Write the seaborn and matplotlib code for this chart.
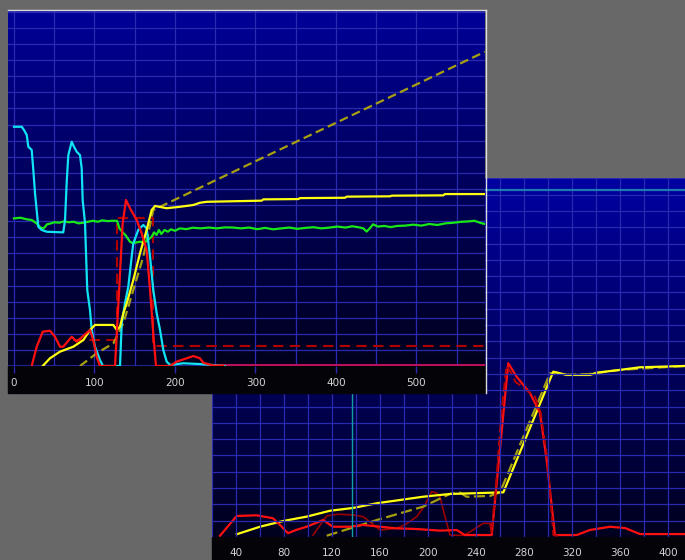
import numpy as np
import matplotlib
matplotlib.use("Agg")
import matplotlib.pyplot as plt
from matplotlib.colors import LinearSegmentedColormap
from matplotlib.patches import Rectangle
from matplotlib.lines import Line2D
import seaborn as sns

# ---------------- front scope window: traces ----------------
front_ticks = [0, 100, 200, 300, 400, 500]
front_tick_labels = ["0", "100", "200", "300", "400", "500"]

cyan_x = [0, 9.6, 12.4, 15.8, 17.8, 22, 24, 26.1, 30.2, 34.4, 40.6, 61.2, 63.4, 65.5,
          67.5, 71.7, 74.5, 77.9, 82, 84.1, 85.3, 88.2, 91, 94.4, 96.5, 100.6, 106.8,
          110.6, 131.7, 133.8, 137.9, 142, 146.2, 148.2, 154.4, 160.6, 164.8, 169, 173,
          177.3, 181.4, 185.5, 189.7, 193.8, 210.3, 231, 250, 262]
cyan_y = [14.86, 14.86, 14.66, 14.35, 13.62, 13.42, 12.17, 10.73, 8.65, 8.45, 8.34, 8.3,
          9.07, 11.45, 13.1, 13.93, 13.62, 13.31, 13.1, 12.28, 10.31, 8.88, 4.72, 3.48,
          2.24, 1.2, 0.37, 0.0, 0.0, 2.65, 3.91, 4.93, 6.79, 7.62, 8.45, 8.76, 8.55, 6.79,
          4.72, 3.27, 2.24, 0.99, 0.27, 0.06, 0.17, 0.12, 0.05, 0.0]

green_x = [0, 8, 16, 22, 28, 33, 37, 41, 46, 50, 56, 62, 68, 74, 80, 86, 92, 98, 104, 110,
           116, 122, 128, 131, 135, 139, 144, 148, 152, 157, 161, 165, 168, 171, 174, 177,
           180, 183, 187, 191, 195, 200, 206, 214, 222, 232, 242, 252, 262, 272, 282, 292,
           302, 312, 322, 332, 342, 352, 362, 372, 382, 392, 402, 412, 420, 428, 434, 438,
           442, 446, 452, 460, 468, 476, 486, 496, 506, 516, 526, 536, 546, 556, 564, 572,
           580, 585]
green_y = [9.17, 9.21, 9.11, 9.07, 8.86, 8.6, 8.55, 8.8, 8.86, 8.93, 8.9, 8.98, 8.93, 8.96,
           8.86, 8.9, 8.96, 9.02, 8.96, 9.05, 9.0, 9.02, 9.02, 8.55, 8.3, 8.1, 7.72, 7.62,
           7.68, 7.72, 7.66, 7.83, 7.9, 8.03, 8.3, 8.14, 8.45, 8.2, 8.45, 8.34, 8.49, 8.4,
           8.55, 8.5, 8.59, 8.55, 8.6, 8.55, 8.61, 8.6, 8.55, 8.6, 8.5, 8.58, 8.49, 8.55,
           8.6, 8.52, 8.58, 8.62, 8.55, 8.6, 8.66, 8.6, 8.68, 8.62, 8.55, 8.35, 8.55, 8.8,
           8.66, 8.7, 8.63, 8.7, 8.72, 8.78, 8.72, 8.82, 8.76, 8.86, 8.9, 8.96, 8.98, 9.02,
           8.88, 8.82]

yellow_x = [35.7, 44.7, 57.1, 73.7, 86.1, 94.4, 100.6, 123.4, 127.6, 131.7, 135.8, 140,
            148.2, 156.5, 164.8, 171, 175.2, 189.7, 206.2, 222.7, 231, 239.4, 307.7, 309.7,
            353.2, 355.3, 411.2, 413.3, 467, 469.2, 533.3, 535.4, 585]
yellow_y = [0.0, 0.48, 0.89, 1.2, 1.61, 2.24, 2.55, 2.55, 2.24, 2.44, 3.27, 3.89, 5.34,
            7.0, 8.45, 9.69, 9.94, 9.8, 9.89, 10.0, 10.14, 10.2, 10.27, 10.35, 10.37, 10.43,
            10.45, 10.52, 10.54, 10.58, 10.6, 10.68, 10.68]

olive_x = [82, 102.7, 123.4, 135.8, 148.2, 160.6, 173, 585]
olive_y = [0.0, 0.79, 1.41, 2.65, 4.72, 6.79, 9.69, 19.52]

red_x = [22, 28.2, 35.7, 44.7, 50.9, 57.1, 61.2, 71.7, 77.9, 94.4, 98.5, 102.7, 106.8,
         125.5, 131.7, 135, 139.1, 144.1, 152.4, 158.6, 164.8, 169, 173, 176.4, 193.8,
         202.1, 214.5, 222.7, 231, 235.2, 247.6, 260]
red_y = [0.0, 1.2, 2.13, 2.19, 1.82, 1.2, 1.2, 1.82, 1.51, 2.24, 1.61, 0.58, 0.0, 0.0,
         5.76, 8.86, 10.31, 9.8, 9.07, 8.24, 7.2, 4.72, 2.03, 0.0, 0.0, 0.27, 0.48, 0.62,
         0.48, 0.2, 0.03, 0.03]

limit_x = [73.7, 128, 128, 173, 173, 585]
limit_y = [1.61, 1.61, 9.17, 9.17, 1.24, 1.24]

base_x = [240, 585]
base_y = [0.05, 0.05]

# ---------------- rear scope window: traces ----------------
rear_ticks = [40, 80, 120, 160, 200, 240, 280, 320, 360, 400]
rear_tick_labels = ["40", "80", "120", "160", "200", "240", "280", "320", "360", "400"]

r_yellow_x = [40.6, 60, 79.2, 98.9, 118.3, 137.5, 157.3, 176.7, 195.8, 218.3, 262.8,
              304.4, 315.6, 335, 340.6, 360, 376.7, 414.2]
r_yellow_y = [0.17, 0.63, 0.98, 1.25, 1.61, 1.78, 2.07, 2.27, 2.47, 2.64, 2.74, 10.14,
              9.94, 9.94, 10.08, 10.25, 10.41, 10.49]

r_olive_x = [115.6, 157.3, 195.8, 218.3, 226.7, 232.2, 251.7, 260, 301.7, 307.2, 315.6,
             335, 360, 414.2]
r_olive_y = [0.08, 1.04, 1.86, 2.64, 2.72, 2.47, 2.52, 2.74, 10.04, 10.08, 9.94, 10.0,
             10.25, 10.49]

r_red_x = [26.7, 40.6, 57.2, 70.8, 76.7, 83.3, 90, 98.9, 112.5, 120.8, 135, 145.8, 160,
           173.9, 190.6, 210, 223.9, 230.8, 253.1, 266.9, 273.9, 285, 293.3, 298.9, 305.8,
           323.9, 335, 351.7, 364.2, 376.7, 414.2]
r_red_y = [0.08, 1.29, 1.33, 1.15, 0.74, 0.23, 0.43, 0.63, 1.04, 0.63, 0.63, 0.74, 0.63,
           0.53, 0.49, 0.39, 0.43, 0.12, 0.12, 10.66, 9.83, 8.83, 7.61, 4.72, 0.12, 0.12,
           0.43, 0.63, 0.55, 0.18, 0.18]

r_dred_x = [104.2, 115.6, 125, 137.5, 145.8, 152, 160, 173.9, 182, 190.6, 197, 203.1, 207,
            210, 214, 218.3, 226, 230.8, 240, 246.1, 251.7]
r_dred_y = [0.12, 1.29, 1.4, 1.35, 1.25, 0.9, 0.43, 0.53, 0.8, 1.25, 1.9, 2.78, 2.7, 2.47,
            1.3, 0.12, 0.1, 0.12, 0.55, 0.84, 0.84]

r_spike_x = [251.7, 253, 257, 261, 265.5, 269, 273, 277, 282, 289.2, 294, 299.6, 304.5, 310]
r_spike_y = [0.84, 0.3, 3.5, 7.5, 10.5, 10.1, 9.5, 9.3, 9.0, 8.61, 7.6, 4.72, 0.12, 0.05]

r_cursor_x = 136.4
r_marker_y = 21.3

# ---------------- layout (pixels of a 685 x 560 canvas) ----------------
W, H = 685, 560
BG = "#686868"
GRID = "#2a2ab0"
LABEL = "#d4d4d4"


def rect(x0, y0, x1, y1):
    return [x0 / W, 1 - y1 / H, (x1 - x0) / W, (y1 - y0) / H]


def scope_axes(fig, box, top, bottom, z):
    ax = fig.add_axes(rect(*box), zorder=z)
    cmap = LinearSegmentedColormap.from_list("scope", [bottom, top])
    ax.imshow(np.linspace(1, 0, 256).reshape(-1, 1), cmap=cmap, aspect="auto",
              extent=[0, 1, 0, 1], transform=ax.transAxes, zorder=0,
              interpolation="bicubic")
    for s in ax.spines.values():
        s.set_visible(False)
    ax.set_facecolor(bottom)
    return ax


def trace(ax, xs, ys, color, lw=1.6, **kw):
    sns.lineplot(x=xs, y=ys, ax=ax, color=color, lw=lw, estimator=None,
                 sort=False, legend=False, **kw)


fig = plt.figure(figsize=(6.85, 5.6), dpi=100, facecolor=BG)

# ---- rear window ----
axb = scope_axes(fig, (212, 178, 685, 537), "#0000a2", "#00001e", 1)
trace(axb, r_dred_x, r_dred_y, "#9a0000", lw=1.2)
trace(axb, r_olive_x, r_olive_y, "#a6a010", lw=1.6, linestyle=(0, (5, 2)))
trace(axb, r_yellow_x, r_yellow_y, "#ffff10", lw=1.6)
trace(axb, r_red_x, r_red_y, "#ff1010", lw=1.6)
trace(axb, r_spike_x, r_spike_y, "#b80000", lw=1.4, linestyle=(0, (5, 2)))
axb.axvline(r_cursor_x, color="#10a0a8", lw=1.0, zorder=3)
axb.axhline(r_marker_y, color="#1f78b0", lw=1.6, zorder=3)
axb.set_xlim(20, 414.2)
axb.set_ylim(0, 22.02)
axb.set_xticks(rear_ticks)
axb.set_xticklabels(rear_tick_labels)
axb.set_xticks(np.arange(20, 420, 20), minor=True)
axb.set_yticks(np.arange(1, 23, 1))
axb.set_yticklabels([])
axb.grid(True, which="both", color=GRID, lw=0.9, zorder=1)
axb.set_axisbelow(False)
axb.tick_params(axis="x", which="both", length=0, pad=8, colors=LABEL, labelsize=7.5)
axb.tick_params(axis="y", length=0)
for ln in axb.get_xgridlines() + axb.get_ygridlines():
    ln.set_zorder(1)
fig.add_artist(Rectangle((212 / W, 0), (W - 212) / W, (H - 537) / H,
                         transform=fig.transFigure, color="#030308", zorder=0.5))

# ---- front window ----
fig.add_artist(Rectangle((8 / W, 1 - 393 / H), (485 - 8) / W, (393 - 366) / H,
                         transform=fig.transFigure, color="#030308", zorder=2))
axf = scope_axes(fig, (8.3, 10.7, 485, 366), "#000098", "#00001c", 3)
trace(axf, base_x, base_y, "#c0105a", lw=1.4)
trace(axf, limit_x, limit_y, "#b00000", lw=1.5, linestyle=(0, (5, 3)))
trace(axf, olive_x, olive_y, "#a8a010", lw=1.6, linestyle=(0, (4, 2)))
trace(axf, green_x, green_y, "#18e818", lw=1.6)
trace(axf, cyan_x, cyan_y, "#10e4f4", lw=1.6)
trace(axf, yellow_x, yellow_y, "#ffff10", lw=1.6)
trace(axf, red_x, red_y, "#ff1010", lw=1.6)
axf.set_xlim(-7.08, 585.1)
axf.set_ylim(0, 22.07)
axf.set_xticks(front_ticks)
axf.set_xticklabels(front_tick_labels)
axf.set_xticks(np.arange(50, 600, 100), minor=True)
axf.set_yticks(np.arange(1, 23, 1))
axf.set_yticklabels([])
axf.grid(True, which="both", color=GRID, lw=0.9)
axf.tick_params(axis="x", which="major", length=5, width=1, color=GRID, pad=4,
                colors=LABEL, labelsize=7.5)
axf.tick_params(axis="x", which="minor", length=0)
axf.tick_params(axis="y", length=0)
axf.tick_params(axis="x", which="major", color=GRID)
axf.axhline(0, color=GRID, lw=1.2, zorder=1)
for ln in axf.get_xgridlines() + axf.get_ygridlines():
    ln.set_zorder(1)

# window frame edges
fig.add_artist(Line2D([8 / W, 485.5 / W], [1 - 10.3 / H] * 2, color="#dcdcdc",
                      lw=1.0, transform=fig.transFigure, zorder=4))
fig.add_artist(Line2D([485.5 / W] * 2, [1 - 10.3 / H, 1 - 393 / H], color="#dcdcdc",
                      lw=1.0, transform=fig.transFigure, zorder=4))

fig.savefig("out.png", dpi=100, facecolor=BG)
